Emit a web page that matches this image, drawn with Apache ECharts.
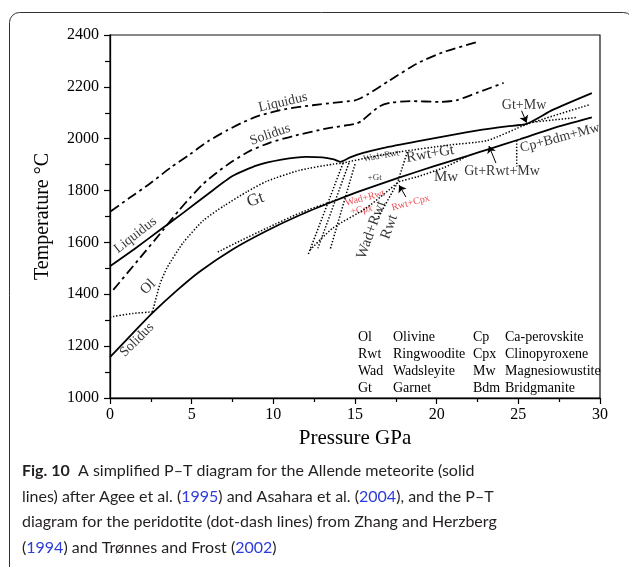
<!DOCTYPE html>
<html><head><meta charset="utf-8">
<script src="https://cdn.jsdelivr.net/npm/echarts@6/dist/echarts.min.js"></script>
<style>html,body{margin:0;padding:0;background:#fff}#chart{width:629px;height:567px}</style>
</head><body><div id="chart"></div>
<script>
// P–T phase relations: pressure in GPa, temperature in °C.

// Peridotite (dot-dash)
const periLiquidus = [[0.05,1720],[1.2,1772],[2.45,1827],[3.7,1888],[4.9,1940],[6.0,1990],[7.16,2032],[8.2,2065],[9.18,2090],[10.8,2115],[12.4,2129],[13.65,2138],[15.0,2148],[15.4,2158],[15.8,2172],[17.1,2224],[18.8,2290],[20.4,2334],[22.5,2373]];
const periSolidus = [[0.2,1417],[1.7,1530],[3.25,1648],[4.2,1722],[4.9,1772],[5.7,1826],[6.55,1870],[7.5,1913],[8.57,1953],[9.8,1985],[11.2,2010],[13.3,2040],[15.0,2057],[15.4,2068],[15.9,2095],[16.5,2125],[17.2,2139],[18.4,2145],[20.2,2142],[21.2,2148],[22.5,2178],[24.1,2215]];

// Allende meteorite (solid)
const allendeLiquidus = [[0,1508],[1.5,1575],[3.0,1645],[4.5,1715],[6.0,1787],[7.5,1856],[9.0,1897],[10.5,1919],[12.0,1930],[13.0,1928],[13.7,1920],[14.1,1911],[14.7,1928],[15.5,1945],[16.7,1964],[18.8,1990],[20.8,2013],[22.8,2035],[24.3,2048],[25.5,2057],[27.1,2111],[29.5,2176]];
const allendeSolidus = [[0,1158],[1.4,1250],[2.6,1328],[4.1,1415],[5.5,1488],[7.5,1573],[9.6,1645],[11.6,1705],[13.65,1758],[15.3,1798],[17.6,1848],[19.8,1893],[21.9,1934],[23.3,1962],[25.1,1998],[27.1,2040],[29.5,2082]];

// Subsolidus phase boundaries (dotted)
const olBoundary = [[0,1312],[1.4,1326],[2.6,1332]];
const gtBoundary = [[2.6,1332],[3.06,1440],[3.5,1503],[4.47,1598],[5.7,1684],[7.0,1742],[8.4,1796],[9.6,1836],[11.6,1878],[13.65,1902],[14.3,1907],[16.0,1930],[17.8,1950],[20.8,1976],[23.1,1993],[25.5,2055],[29.4,2132]];
const gtMwBoundary = [[25.9,2064],[28.6,2082]];
const cpBdmBoundary = [[24.9,1994],[24.9,1893]];
const lowerGtBoundary = [[6.6,1563],[8.0,1607],[9.6,1655],[11.6,1713],[13.65,1760]];
const mwBoundary = [[17.7,1835],[18.8,1853],[20.5,1890],[21.8,1930]];
const cpxBoundary = [[12.25,1571],[13.65,1656],[15.7,1733],[17.7,1835]];
const wadRwt1 = [[14.27,1906],[12.12,1551]];
const wadRwt2 = [[14.63,1906],[12.73,1578]];
const wadRwt3 = [[15.0,1902],[13.47,1571]];
const rwtBoundary = [[18.2,1949],[17.6,1830],[16.4,1694]];

// Arrows pointing at narrow fields: [from, to]
const arrowGtMw = [[25.2,2108],[25.5,2062]];
const arrowGtRwtMw = [[23.63,1906],[23.2,1972]];
const arrowRwtCpx = [[18.12,1775],[17.7,1821]];

// Tick values
const pressureTicks = [0,5,10,15,20,25,30];
const temperatureTicks = [1000,1200,1400,1600,1800,2000,2200,2400];

// Phase key
const keyAbbr1 = ['Ol','Rwt','Wad','Gt'];
const keyName1 = ['Olivine','Ringwoodite','Wadsleyite','Garnet'];
const keyAbbr2 = ['Cp','Cpx','Mw','Bdm'];
const keyName2 = ['Ca-perovskite','Clinopyroxene','Magnesiowustite','Bridgmanite'];

const SERIF = '"Liberation Serif","Times New Roman",serif';
const SANS = 'Lato,"Open Sans",sans-serif';

// Field and curve labels, anchored in data coordinates
const annotations = [
  {at:[10.59,2140], text:'Liquidus', rotate:13, size:14},
  {at:[9.8,2016], text:'Solidus', rotate:19, size:14},
  {at:[1.55,1628], text:'Liquidus', rotate:38, size:14},
  {at:[1.65,1224], text:'Solidus', rotate:45, size:14},
  {at:[8.9,1764], text:'Gt', rotate:20, size:17},
  {at:[2.33,1428], text:'Ol', rotate:45, size:15},
  {at:[25.35,2130], text:'Gt+Mw', rotate:0, size:14},
  {at:[27.55,2003], text:'Cp+Bdm+Mw', rotate:15, size:14},
  {at:[24.0,1875], text:'Gt+Rwt+Mw', rotate:0, size:14},
  {at:[19.6,1941], text:'Rwt+Gt', rotate:10, size:15},
  {at:[20.57,1852], text:'Mw', rotate:0, size:15},
  {at:[16.6,1933], text:'Wad+Rwt', rotate:10, size:9},
  {at:[16.2,1848], text:'+Gt', rotate:0, size:9},
  {at:[15.6,1771], text:'Wad+Rwt', rotate:15, size:10, color:'#e8202a'},
  {at:[15.4,1725], text:'+Cpx', rotate:10, size:10, color:'#e8202a'},
  {at:[18.4,1752], text:'Rwt+Cpx', rotate:15, size:10, color:'#e8202a'},
  {at:[16.0,1648], text:'Wad+Rwt', rotate:70, size:15},
  {at:[17.1,1660], text:'Rwt', rotate:70, size:15}
];

function curve(data, dash, width, smooth) {
  return {
    type: 'line', data: data, symbol: 'none', smooth: smooth,
    silent: true, animation: false,
    lineStyle: {color: '#000', width: width, type: dash, cap: 'butt'}
  };
}
const DOTDASH = [10, 4, 3, 4];
const DOT = [1.4, 1.8];

function arrow(pair) {
  return {coords: pair};
}

const chart = echarts.init(document.getElementById('chart'), null, {renderer: 'canvas'});

const keyGraphics = [];
const rowY = [337, 354, 371, 388];
rowY.forEach(function (y, i) {
  [[358, keyAbbr1[i]], [393, keyName1[i]], [473, keyAbbr2[i]], [505, keyName2[i]]].forEach(function (c) {
    keyGraphics.push({type: 'text', x: c[0], y: y, style: {text: c[1], font: '14px ' + SERIF, fill: '#000', verticalAlign: 'middle'}});
  });
});

const capRich = {
  b: {fontWeight: 'bold', fontFamily: SANS, fontSize: 16, fill: '#231f20'},
  y: {fontFamily: SANS, fontSize: 16, fill: '#2d3bd8'}
};
const captionLines = [
  '{b|Fig. 10}  A simplified P–T diagram for the Allende meteorite (solid',
  'lines) after Agee et al. ({y|1995}) and Asahara et al. ({y|2004}), and the P–T',
  'diagram for the peridotite (dot-dash lines) from Zhang and Herzberg',
  '({y|1994}) and Trønnes and Frost ({y|2002})'
];
const captionY = [471, 496.5, 522, 547.5];
const captionGraphics = captionLines.map(function (t, i) {
  return {type: 'text', x: 22, y: captionY[i], style: {text: t, rich: capRich, fontFamily: SANS, fontSize: 16, fill: '#231f20', verticalAlign: 'middle'}};
});

chart.setOption({
  animation: false,
  backgroundColor: '#fff',
  grid: {left: 110, right: 29, top: 35, bottom: 169, show: true, borderColor: '#111', borderWidth: 1.2, outerBoundsMode: 'none'},
  xAxis: {
    type: 'value', min: 0, max: 30, interval: 5,
    name: 'Pressure GPa', nameLocation: 'middle', nameGap: 28,
    nameTextStyle: {fontFamily: SERIF, fontSize: 21, color: '#000'},
    axisLine: {onZero: false, lineStyle: {color: '#000', width: 1.3}},
    axisTick: {length: 6, lineStyle: {color: '#000', width: 1.2}},
    minorTick: {show: true, splitNumber: 2, length: 4, lineStyle: {color: '#000', width: 1.2}},
    axisLabel: {fontFamily: SERIF, fontSize: 16, color: '#000', margin: 9,
      formatter: function (v) { return pressureTicks.indexOf(v) >= 0 ? String(v) : ''; }},
    splitLine: {show: false}
  },
  yAxis: {
    type: 'value', min: 1000, max: 2400, interval: 200,
    name: 'Temperature °C', nameLocation: 'middle', nameGap: 57, nameRotate: 90,
    nameTextStyle: {fontFamily: SERIF, fontSize: 20, color: '#000'},
    axisLine: {show: true, onZero: false, lineStyle: {color: '#000', width: 1.3}},
    axisTick: {show: true, length: 6, lineStyle: {color: '#000', width: 1.2}},
    minorTick: {show: true, splitNumber: 2, length: 5, lineStyle: {color: '#000', width: 1.2}},
    axisLabel: {fontFamily: SERIF, fontSize: 16, color: '#000', margin: 11,
      formatter: function (v) { return temperatureTicks.indexOf(v) >= 0 ? String(v) : ''; }},
    splitLine: {show: false}
  },
  series: [
    curve(periLiquidus, DOTDASH, 1.8, 0.2),
    curve(periSolidus, DOTDASH, 1.8, 0.2),
    curve(allendeLiquidus, 'solid', 1.8, 0.2),
    curve(allendeSolidus, 'solid', 1.8, 0.2),
    curve(olBoundary, DOT, 1.5, 0.2),
    curve(gtBoundary, DOT, 1.5, 0.2),
    curve(gtMwBoundary, DOT, 1.5, false),
    curve(cpBdmBoundary, DOT, 1.5, false),
    curve(lowerGtBoundary, DOT, 1.5, 0.2),
    curve(mwBoundary, DOT, 1.5, 0.2),
    curve(cpxBoundary, DOT, 1.5, 0.2),
    curve(wadRwt1, DOT, 1.5, false),
    curve(wadRwt2, DOT, 1.5, false),
    curve(wadRwt3, DOT, 1.5, false),
    curve(rwtBoundary, DOT, 1.5, false),
    {
      type: 'lines', coordinateSystem: 'cartesian2d', silent: true, animation: false,
      symbol: ['none', 'arrow'], symbolSize: 7,
      lineStyle: {color: '#000', width: 1, opacity: 1},
      data: [arrow(arrowGtMw), arrow(arrowGtRwtMw), arrow(arrowRwtCpx)]
    },
    {
      type: 'scatter', symbolSize: 1, silent: true, animation: false,
      itemStyle: {color: 'rgba(0,0,0,0)'},
      data: annotations.map(function (a) {
        return {
          value: a.at,
          label: {show: true, position: 'inside', formatter: a.text, rotate: a.rotate,
            fontFamily: SERIF, fontSize: a.size, color: a.color || '#000'}
        };
      })
    }
  ],
  graphic: [
    {type: 'rect', shape: {x: 9.5, y: 12.5, width: 624, height: 620, r: 10}, style: {fill: 'none', stroke: '#333', lineWidth: 1}, silent: true}
  ].concat(keyGraphics, captionGraphics)
});
</script></body></html>
